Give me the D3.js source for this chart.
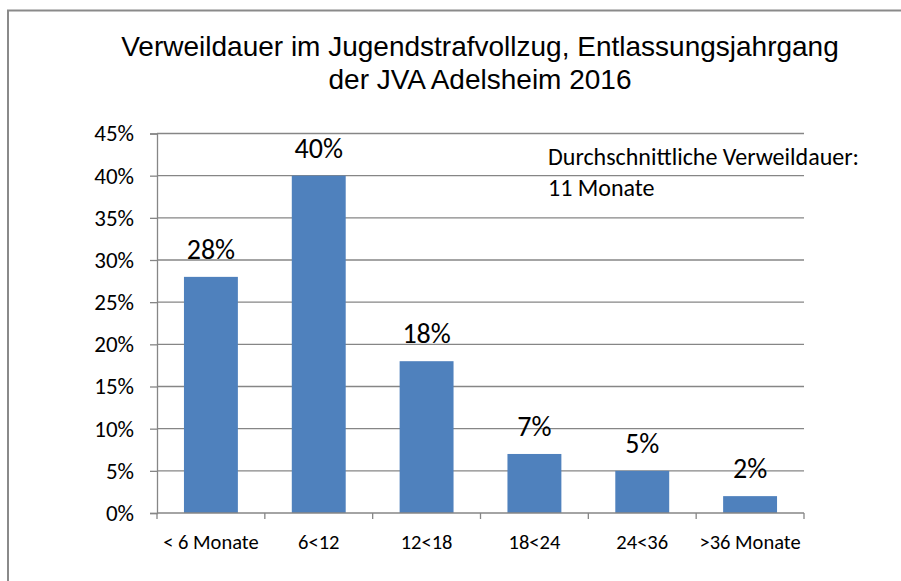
<!DOCTYPE html>
<html lang="de">
<head>
    <meta charset="UTF-8">
    <title>Verweildauer im Jugendstrafvollzug</title>
    <script src="https://d3js.org/d3.v7.min.js"></script>
    <style>
        body {
            margin: 0;
            background-color: #fff;
        }
        .title {
            font-family: "Liberation Sans", Arial, sans-serif;
            font-size: 28px;
            fill: #000;
        }
        .axis text {
            font-family: Carlito, Calibri, Lato, sans-serif;
            fill: #000;
        }
        .axis .domain, .axis line {
            stroke: #868686;
        }
        .label {
            font-family: Carlito, Calibri, Lato, sans-serif;
            font-size: 28px;
            fill: #000;
        }
        .note {
            font-family: Carlito, Calibri, Lato, sans-serif;
            font-size: 24px;
            fill: #000;
        }
    </style>
</head>
<body>
<div id="chart"></div>
<script>
    const categories = ['< 6 Monate', '6<12', '12<18', '18<24', '24<36', '>36 Monate'];
    const shares = [28, 40, 18, 7, 5, 2];
    const yTicks = [0, 5, 10, 15, 20, 25, 30, 35, 40, 45];
    const titleLines = ['Verweildauer im Jugendstrafvollzug, Entlassungsjahrgang', 'der JVA Adelsheim 2016'];
    const noteLines = ['Durchschnittliche Verweildauer:', '11 Monate'];

    const width = 901, height = 581;
    const plotLeft = 157, plotRight = 804, plotTop = 133.5, plotBottom = 513;

    const svg = d3.select('#chart').append('svg')
        .attr('width', width)
        .attr('height', height);

    svg.append('rect')
        .attr('width', width).attr('height', height)
        .attr('fill', '#fff');

    // outer chart frame, runs off the right and bottom edges
    svg.append('rect')
        .attr('x', 8).attr('y', 10.5)
        .attr('width', 1000).attr('height', 1000)
        .attr('fill', 'none')
        .attr('stroke', '#8a8a8a')
        .attr('stroke-width', 2);

    svg.selectAll('.title')
        .data(titleLines)
        .enter().append('text')
        .attr('class', 'title')
        .attr('x', 480)
        .attr('y', (d, i) => 56 + i * 33)
        .attr('text-anchor', 'middle')
        .text(d => d);

    const x = d3.scaleBand()
        .domain(categories)
        .range([plotLeft, plotRight])
        .padding(0);

    const y = d3.scaleLinear()
        .domain([0, 45])
        .range([plotBottom, plotTop]);

    // gridlines
    svg.append('g')
        .selectAll('line')
        .data(yTicks.filter(d => d > 0))
        .enter().append('line')
        .attr('x1', plotLeft).attr('x2', plotRight)
        .attr('y1', d => y(d)).attr('y2', d => y(d))
        .attr('stroke', '#868686')
        .attr('stroke-width', 1.3);

    const bw = x.bandwidth();
    svg.append('g')
        .selectAll('rect')
        .data(shares)
        .enter().append('rect')
        .attr('x', (d, i) => x(categories[i]) + bw * 0.25)
        .attr('width', bw * 0.5)
        .attr('y', d => y(d))
        .attr('height', d => plotBottom - y(d))
        .attr('fill', '#4f81bd');

    const yAxis = svg.append('g')
        .attr('class', 'axis')
        .attr('transform', `translate(${plotLeft},0)`)
        .call(d3.axisLeft(y).tickValues(yTicks).tickSize(7).tickPadding(16).tickFormat(d => d + '%'));
    yAxis.selectAll('text').style('font-size', '23px');
    yAxis.selectAll('.domain, line').attr('stroke-width', 1.3);

    // x axis with ticks on band boundaries
    const xAxis = svg.append('g')
        .attr('class', 'axis')
        .attr('transform', `translate(0,${plotBottom})`);
    xAxis.append('line')
        .attr('x1', plotLeft).attr('x2', plotRight)
        .attr('stroke', '#868686').attr('stroke-width', 1.3);
    xAxis.selectAll('.tick')
        .data(categories.concat(['end']))
        .enter().append('line')
        .attr('x1', (d, i) => i < categories.length ? x(d) : plotRight)
        .attr('x2', (d, i) => i < categories.length ? x(d) : plotRight)
        .attr('y1', 0).attr('y2', 6)
        .attr('stroke', '#868686').attr('stroke-width', 1.3);
    xAxis.selectAll('text')
        .data(categories)
        .enter().append('text')
        .attr('x', d => x(d) + bw / 2)
        .attr('y', 36)
        .attr('text-anchor', 'middle')
        .style('font-size', '20.5px')
        .text(d => d);

    svg.append('g')
        .selectAll('text')
        .data(shares)
        .enter().append('text')
        .attr('class', 'label')
        .attr('x', (d, i) => x(categories[i]) + bw / 2)
        .attr('y', d => y(d) - 18)
        .attr('text-anchor', 'middle')
        .text(d => d + '%');

    svg.selectAll('.note')
        .data(noteLines)
        .enter().append('text')
        .attr('class', 'note')
        .attr('x', 548)
        .attr('y', (d, i) => 165 + i * 31)
        .text(d => d);
</script>
</body>
</html>
